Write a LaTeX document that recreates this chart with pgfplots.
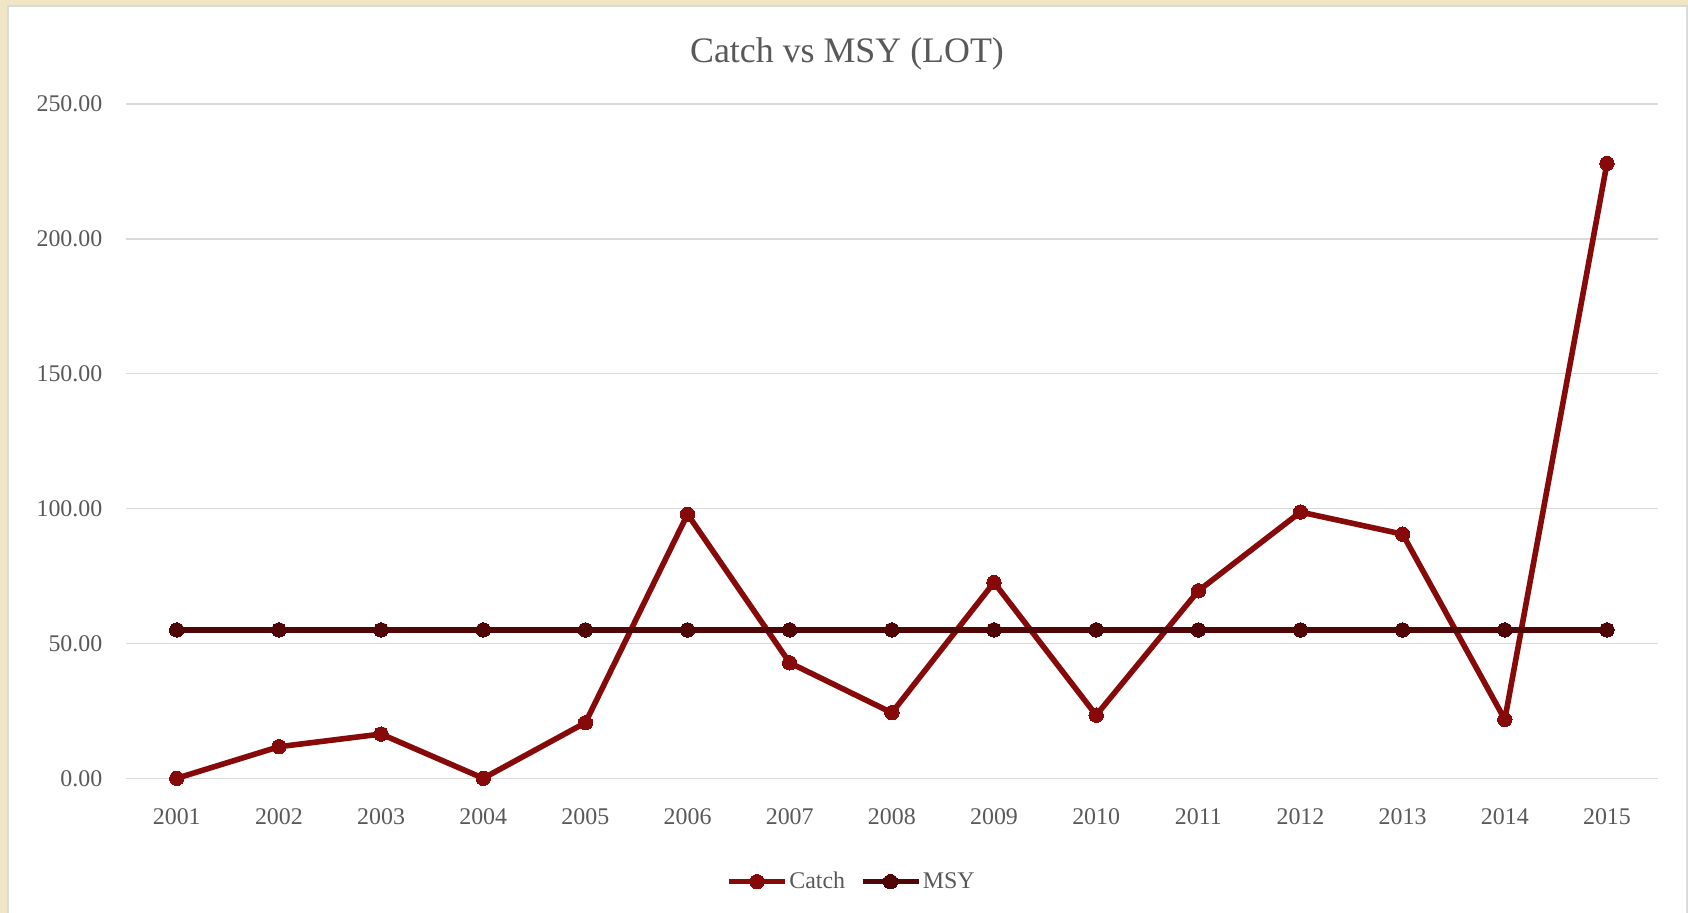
\documentclass[border=0pt]{standalone}
\usepackage{fontspec}
\setmainfont{Liberation Serif}
\usepackage{pgfplots}
\pgfplotsset{compat=1.18}
\definecolor{catchc}{HTML}{870A0A}
\definecolor{msyc}{HTML}{4E0606}
\definecolor{txt}{HTML}{595959}
\definecolor{gridc}{HTML}{D9D9D9}
\definecolor{parch}{HTML}{F0E6C6}
\begin{document}
\begin{tikzpicture}[x=1bp,y=1bp]
\useasboundingbox (0,0) rectangle (844,456.5);
\fill[parch] (0,0) rectangle (844,456.5);
\filldraw[fill=white, draw=gridc, line width=0.75bp] (4,-2) rectangle (843.5,453.5);
\node[text=txt, font=\fontsize{18}{22}\selectfont] at (423.5,429.5) {Catch vs MSY (LOT)};
\begin{axis}[
  at={(62.85bp,67.35bp)}, anchor=south west,
  scale only axis, width=766.15bp, height=337.15bp,
  xmin=2000.5, xmax=2015.5, ymin=0, ymax=250,
  clip=false,
  axis line style={draw=none},
  major tick length=0pt,
  ytick={0,50,100,150,200,250},
  yticklabels={0.00,50.00,100.00,150.00,200.00,250.00},
  xtick={2001,2002,2003,2004,2005,2006,2007,2008,2009,2010,2011,2012,2013,2014,2015},
  xticklabels={2001,2002,2003,2004,2005,2006,2007,2008,2009,2010,2011,2012,2013,2014,2015},
  ymajorgrids,
  grid style={gridc, line width=0.75bp},
  tick label style={text=txt, font=\fontsize{12}{14}\selectfont},
  yticklabel style={anchor=east, inner sep=0pt, xshift=-11.5bp},
  xticklabel style={anchor=center, inner sep=0pt, yshift=-19.2bp},
  legend style={at={(0.4735,-0.1533)}, anchor=center, draw=none, fill=none,
    legend columns=2, font=\fontsize{12}{14}\selectfont, text=txt,
    /tikz/every even column/.append style={column sep=6.5bp},
    inner sep=0pt, nodes={inner sep=0.8bp}},
  legend image code/.code={\draw[mark repeat=2, mark phase=2, #1] plot coordinates {(0bp,0bp) (14bp,0bp) (28bp,0bp)};},
]
\addplot[catchc, line width=2.8bp, line join=round, mark=*, mark size=3.6bp, mark options={solid, fill=catchc, draw=catchc, line width=0pt}]
coordinates {(2001,0) (2002,11.7) (2003,16.4) (2004,0) (2005,20.6) (2006,97.9) (2007,42.8) (2008,24.3) (2009,72.6) (2010,23.4) (2011,69.5) (2012,98.7) (2013,90.5) (2014,21.8) (2015,228)};
\addlegendentry{Catch}
\addplot[msyc, line width=2.8bp, line join=round, mark=*, mark size=3.6bp, mark options={solid, fill=msyc, draw=msyc, line width=0pt}]
coordinates {(2001,55) (2002,55) (2003,55) (2004,55) (2005,55) (2006,55) (2007,55) (2008,55) (2009,55) (2010,55) (2011,55) (2012,55) (2013,55) (2014,55) (2015,55)};
\addlegendentry{MSY}
\end{axis}
\end{tikzpicture}
\end{document}
